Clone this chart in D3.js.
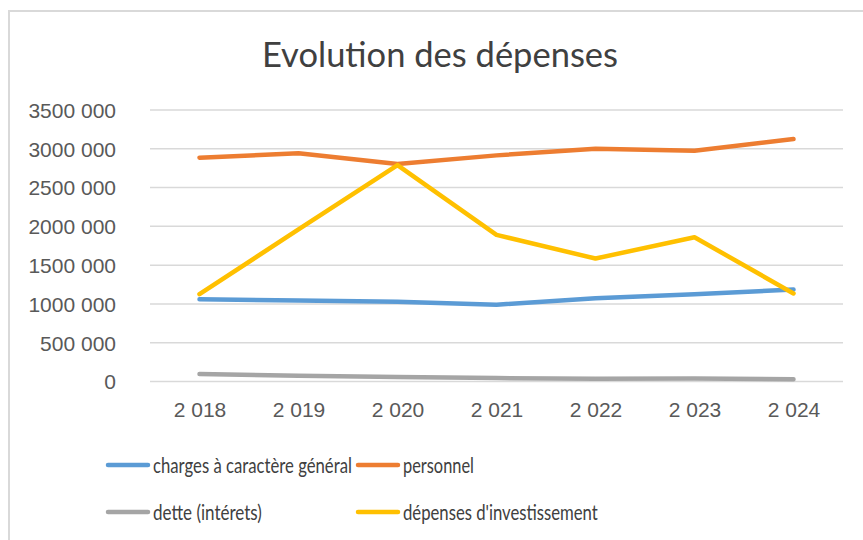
<!DOCTYPE html>
<meta charset="utf-8">
<style>
	body { margin: 0; background: #fff; }
	svg { font-family: Lato, "Open Sans", sans-serif; }
	.axis text { fill: #595959; font-size: 21px; }
	.grid line { stroke: #d9d9d9; stroke-width: 1.5; }
	.legend text { fill: #404040; font-size: 22px; }
</style>
<script src="https://d3js.org/d3.v7.min.js"></script>
<svg width="863" height="540" class="chart"></svg>
<script>
	var years = ["2 018", "2 019", "2 020", "2 021", "2 022", "2 023", "2 024"];
	var yTicks = [0, 500000, 1000000, 1500000, 2000000, 2500000, 3000000, 3500000];

	var charges = [1060000, 1043000, 1027000, 990000, 1074000, 1126000, 1185000];
	var personnel = [2885000, 2942000, 2805000, 2915000, 3000000, 2976000, 3126000];
	var dette = [97000, 74000, 58000, 44000, 34000, 38000, 30000];
	var investissement = [1126000, 1960000, 2790000, 1890000, 1585000, 1860000, 1135000];

	var names = ["charges à caractère général", "personnel", "dette (intérets)", "dépenses d'investissement"];
	var colors = ["#5b9bd5", "#ed7d31", "#a5a5a5", "#ffc000"];
	var series = [charges, personnel, dette, investissement];

	var svg = d3.select(".chart"),
		margin = {top: 110, right: 20, bottom: 158, left: 150},
		width = 843 - margin.left,
		height = 381.5 - margin.top;

	// chart border (only top and left edges are inside the picture)
	svg.append("path")
		.attr("d", "M9,540 V11 H863")
		.attr("fill", "none")
		.attr("stroke", "#d9d9d9")
		.attr("stroke-width", 2);

	svg.append("text")
		.attr("x", 440)
		.attr("y", 67)
		.attr("text-anchor", "middle")
		.attr("fill", "#404040")
		.style("font-size", "34.5px")
		.text("Evolution des dépenses");

	var x = d3.scalePoint()
		.domain(years)
		.range([0, width])
		.padding(0.5);

	var y = d3.scaleLinear()
		.domain([0, 3500000])
		.range([height, 0]);

	var g = svg.append("g")
		.attr("transform", "translate(" + margin.left + "," + margin.top + ")");

	var fmt = function(d) {
		var s = d3.format(",")(d).replace(/,/g, " ");
		return s.replace(/^(\d) (\d{3}) /, "$1$2 ");
	};

	g.append("g")
		.attr("class", "grid")
		.selectAll("line")
		.data(yTicks)
		.enter().append("line")
			.attr("x1", 0)
			.attr("x2", width)
			.attr("y1", function(d) { return y(d); })
			.attr("y2", function(d) { return y(d); });

	var yAxis = g.append("g")
		.attr("class", "axis")
		.call(d3.axisLeft(y).tickValues(yTicks).tickFormat(fmt).tickSize(0).tickPadding(34));
	yAxis.select(".domain").remove();
	yAxis.selectAll("text").attr("dy", "0.35em");

	var xAxis = g.append("g")
		.attr("class", "axis")
		.attr("transform", "translate(0," + height + ")")
		.call(d3.axisBottom(x).tickSize(0).tickPadding(21));
	xAxis.select(".domain").remove();

	var line = d3.line()
		.x(function(d, i) { return x(years[i]); })
		.y(function(d) { return y(d); });

	g.selectAll(".series")
		.data(series)
		.enter().append("path")
			.attr("class", "series")
			.attr("fill", "none")
			.attr("stroke", function(d, i) { return colors[i]; })
			.attr("stroke-width", 4.5)
			.attr("stroke-linecap", "round")
			.attr("stroke-linejoin", "round")
			.attr("d", line);

	// legend, two columns; labels squeezed sideways to the narrow widths of the original font
	var legend = svg.append("g").attr("class", "legend");
	var lx = [108, 358], ly = [465, 512];
	var labelWidth = [199, 71, 109, 195];
	names.forEach(function(n, i) {
		var cx = lx[i % 2], cy = ly[Math.floor(i / 2)];
		legend.append("line")
			.attr("x1", cx).attr("x2", cx + 40)
			.attr("y1", cy).attr("y2", cy)
			.attr("stroke", colors[i])
			.attr("stroke-width", 4.5)
			.attr("stroke-linecap", "round");
		var t = legend.append("g")
			.attr("transform", "translate(" + (cx + 45) + "," + cy + ")")
			.append("text")
				.attr("dy", "0.35em")
				.text(n);
		var k = labelWidth[i] / t.node().getComputedTextLength();
		t.attr("transform", "scale(" + k + ",1)");
	});
</script>
